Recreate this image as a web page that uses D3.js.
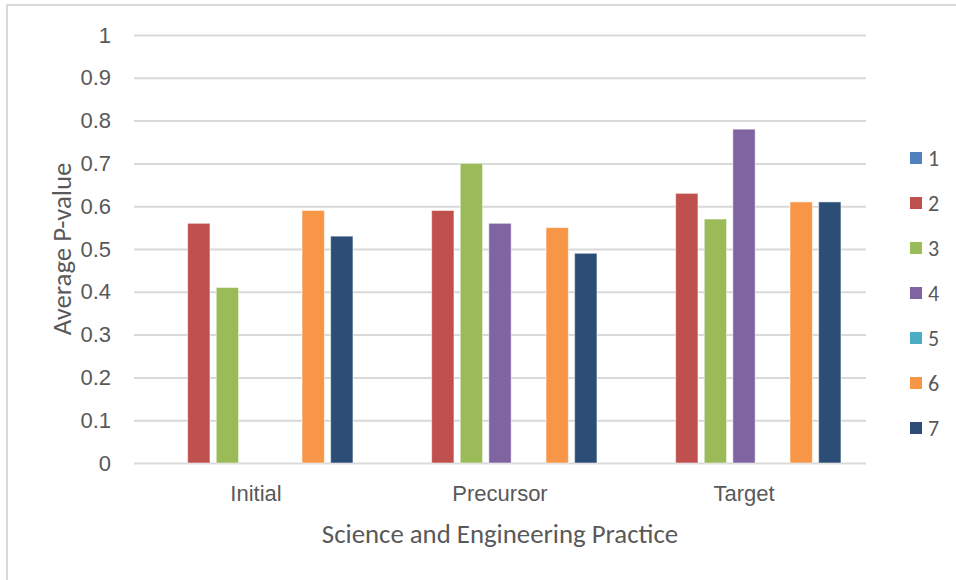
<!DOCTYPE html>
<html>
<head>
<meta charset="utf-8">
<script src="https://cdn.jsdelivr.net/npm/d3@7"></script>
<style>
  html, body { margin: 0; padding: 0; background: #fff; }
  svg { display: block; font-family: Carlito, "Open Sans", sans-serif; }
</style>
</head>
<body>
<div id="chart"></div>
<script>
const categories = ['Initial', 'Precursor', 'Target'];
const seriesNames = ['1', '2', '3', '4', '5', '6', '7'];
// one array per series, values for Initial, Precursor, Target
const s1 = [0, 0, 0];
const s2 = [0.56, 0.59, 0.63];
const s3 = [0.41, 0.70, 0.57];
const s4 = [0, 0.56, 0.78];
const s5 = [0, 0, 0];
const s6 = [0.59, 0.55, 0.61];
const s7 = [0.53, 0.49, 0.61];
const yTicks = [0, 0.1, 0.2, 0.3, 0.4, 0.5, 0.6, 0.7, 0.8, 0.9, 1];

const seriesValues = [s1, s2, s3, s4, s5, s6, s7];
const colors = ['#4F81BD', '#C0504D', '#9BBB59', '#8064A2', '#4BACC6', '#F79646', '#2C4D75'];

const W = 956, H = 580;
const plot = { left: 134, right: 866, top: 35, bottom: 463 };

const svg = d3.select('#chart').append('svg')
  .attr('width', W).attr('height', H);

// outer chart border (cropped on right/bottom)
svg.append('rect')
  .attr('x', 7).attr('y', 5)
  .attr('width', W).attr('height', H)
  .attr('fill', 'none').attr('stroke', '#d9d9d9').attr('stroke-width', 2);

// Scales
const x0 = d3.scaleBand().domain(categories).range([plot.left, plot.right]).padding(0);
const x1 = d3.scaleBand().domain(seriesNames).range([0, x0.bandwidth()])
  .paddingInner(0.22).paddingOuter(0.876);
const y = d3.scaleLinear().domain([0, 1]).range([plot.bottom, plot.top]);

// Gridlines
const yAxis = d3.axisLeft(y).tickValues(yTicks)
  .tickSize(-(plot.right - plot.left))
  .tickPadding(23)
  .tickFormat(d => d3.format('~g')(d));

const yg = svg.append('g')
  .attr('transform', `translate(${plot.left},0)`)
  .call(yAxis);
yg.select('.domain').remove();
yg.selectAll('line').attr('stroke', '#d9d9d9').attr('stroke-width', 2);
yg.selectAll('text').attr('fill', '#595959').attr('font-size', '22px');

// Bars
const groups = svg.append('g').selectAll('g')
  .data(categories)
  .join('g')
  .attr('transform', d => `translate(${x0(d)},0)`);

groups.selectAll('rect')
  .data((c, ci) => seriesNames.map((s, si) => ({ s, si, v: seriesValues[si][ci] })))
  .join('rect')
  .filter(d => d.v > 0)
  .attr('x', d => x1(d.s))
  .attr('y', d => y(d.v))
  .attr('width', x1.bandwidth())
  .attr('height', d => y(0) - y(d.v))
  .attr('fill', d => colors[d.si])
  .attr('stroke', '#fff')
  .attr('stroke-opacity', 0.5)
  .attr('stroke-width', 1);

// X axis (category labels only)
const xg = svg.append('g')
  .attr('transform', `translate(0,${plot.bottom})`)
  .call(d3.axisBottom(x0).tickSize(0).tickPadding(22));
xg.select('.domain').remove();
xg.selectAll('text').attr('fill', '#595959').attr('font-size', '22px');

// Axis titles
svg.append('text')
  .attr('x', (plot.left + plot.right) / 2)
  .attr('y', 543)
  .attr('text-anchor', 'middle')
  .attr('fill', '#595959')
  .attr('font-size', '26.8px')
  .text('Science and Engineering Practice');

svg.append('text')
  .attr('transform', `translate(71,${(plot.top + plot.bottom) / 2}) rotate(-90)`)
  .attr('text-anchor', 'middle')
  .attr('fill', '#595959')
  .attr('font-size', '26.8px')
  .text('Average P-value');

// Legend
const legend = svg.append('g').selectAll('g')
  .data(seriesNames)
  .join('g')
  .attr('transform', (d, i) => `translate(910,${158 + i * 45})`);

legend.append('rect')
  .attr('x', 0).attr('y', -6)
  .attr('width', 12).attr('height', 12)
  .attr('fill', (d, i) => colors[i]);

legend.append('text')
  .attr('x', 18).attr('y', 0)
  .attr('dy', '0.35em')
  .attr('fill', '#595959')
  .attr('font-size', '22px')
  .text(d => d);
</script>
</body>
</html>
